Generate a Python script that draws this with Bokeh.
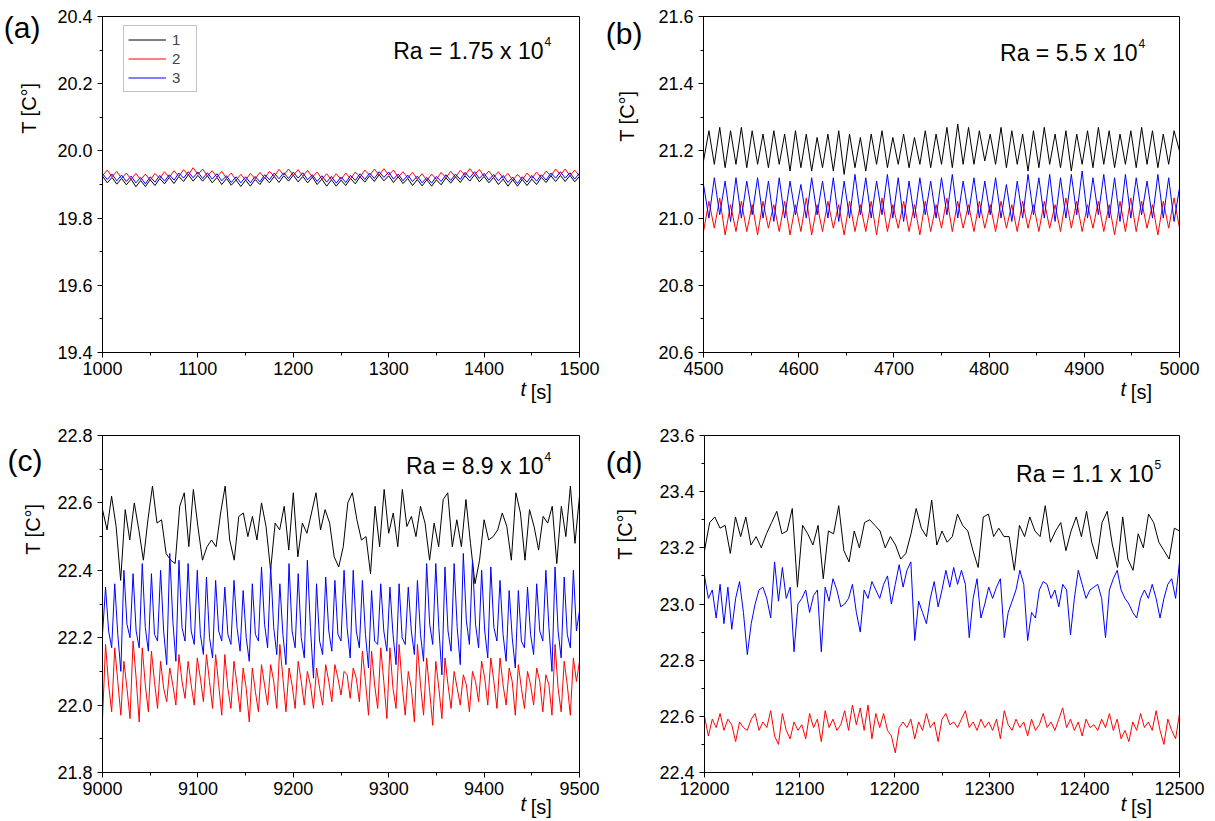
import numpy as np
from math import pi
from bokeh.plotting import figure
from bokeh.models import Range1d, FixedTicker, PrintfTickFormatter, Label, LinearAxis
from bokeh.layouts import row, column
from bokeh.embed import file_html
from bokeh.resources import INLINE

FONT = "Liberation Sans"

# ---------------- data ----------------
# panel (a): Ra = 1.75 x 10^4, t = 1000 .. 1500 s
a_black = [19.925, 19.905, 19.921, 19.901, 19.918, 19.899, 19.916, 19.893, 19.912, 19.894, 19.914,
           19.897, 19.918, 19.902, 19.921, 19.903, 19.924, 19.909, 19.929, 19.910, 19.927,
           19.910, 19.926, 19.905, 19.921, 19.900, 19.918, 19.898, 19.913, 19.894, 19.913,
           19.895, 19.915, 19.900, 19.921, 19.905, 19.924, 19.906, 19.926, 19.910, 19.928,
           19.908, 19.924, 19.905, 19.922, 19.900, 19.916, 19.895, 19.914, 19.895, 19.913,
           19.897, 19.918, 19.902, 19.923, 19.907, 19.926, 19.909, 19.929, 19.911, 19.926,
           19.906, 19.923, 19.903, 19.918, 19.897, 19.915, 19.896, 19.914, 19.895, 19.914,
           19.899, 19.920, 19.904, 19.923, 19.906, 19.926, 19.910, 19.929, 19.908, 19.924,
           19.905, 19.921, 19.900, 19.916, 19.895, 19.914, 19.895, 19.915, 19.897, 19.916,
           19.900, 19.921, 19.906, 19.926, 19.909, 19.927, 19.909, 19.927, 19.908, 19.924]
a_red = [19.926, 19.943, 19.923, 19.939, 19.918, 19.934, 19.915, 19.933, 19.914, 19.931, 19.913,
         19.933, 19.918, 19.938, 19.921, 19.941, 19.924, 19.944, 19.928, 19.950, 19.930,
         19.946, 19.925, 19.941, 19.922, 19.939, 19.919, 19.934, 19.913, 19.930, 19.913,
         19.933, 19.917, 19.936, 19.919, 19.939, 19.924, 19.945, 19.928, 19.946, 19.927,
         19.944, 19.925, 19.942, 19.922, 19.937, 19.916, 19.932, 19.914, 19.932, 19.915,
         19.934, 19.917, 19.937, 19.922, 19.943, 19.927, 19.946, 19.928, 19.947, 19.928,
         19.943, 19.922, 19.938, 19.919, 19.936, 19.916, 19.932, 19.912, 19.931, 19.915,
         19.936, 19.920, 19.939, 19.922, 19.942, 19.927, 19.947, 19.929, 19.945, 19.924,
         19.940, 19.921, 19.938, 19.918, 19.933, 19.913, 19.930, 19.914, 19.934, 19.918,
         19.937, 19.920, 19.940, 19.925, 19.946, 19.929, 19.946, 19.926, 19.943, 19.925]
a_blue = [19.932, 19.915, 19.931, 19.911, 19.928, 19.909, 19.925, 19.905, 19.921, 19.902, 19.923,
          19.907, 19.927, 19.910, 19.929, 19.913, 19.934, 19.919, 19.938, 19.920, 19.937,
          19.918, 19.935, 19.916, 19.932, 19.911, 19.926, 19.906, 19.923, 19.905, 19.923,
          19.905, 19.924, 19.908, 19.929, 19.914, 19.934, 19.917, 19.935, 19.918, 19.937,
          19.919, 19.935, 19.914, 19.929, 19.909, 19.926, 19.907, 19.924, 19.904, 19.922,
          19.906, 19.927, 19.912, 19.932, 19.915, 19.934, 19.918, 19.938, 19.921, 19.937,
          19.916, 19.931, 19.911, 19.928, 19.909, 19.925, 19.905, 19.921, 19.904, 19.924,
          19.909, 19.929, 19.912, 19.931, 19.915, 19.936, 19.920, 19.938, 19.918, 19.933,
          19.913, 19.930, 19.911, 19.927, 19.906, 19.922, 19.903, 19.923, 19.907, 19.927,
          19.910, 19.929, 19.913, 19.934, 19.919, 19.938, 19.919, 19.935, 19.916, 19.934]

# panel (b): Ra = 5.5 x 10^4, t = 4500 .. 5000 s (successive extrema)
b_black = [21.17, 21.26, 21.16, 21.27, 21.15, 21.26, 21.16, 21.27, 21.15, 21.26,
           21.16, 21.25, 21.15, 21.26, 21.16, 21.25, 21.14, 21.26, 21.15, 21.25,
           21.14, 21.24, 21.15, 21.25, 21.14, 21.26, 21.13, 21.25, 21.15, 21.24,
           21.14, 21.25, 21.16, 21.26, 21.15, 21.24, 21.16, 21.25, 21.15, 21.24,
           21.16, 21.26, 21.15, 21.25, 21.16, 21.27, 21.15, 21.28, 21.16, 21.27,
           21.16, 21.26, 21.17, 21.25, 21.16, 21.27, 21.15, 21.26, 21.16, 21.25,
           21.14, 21.26, 21.15, 21.27, 21.16, 21.25, 21.15, 21.26, 21.14, 21.25,
           21.16, 21.26, 21.15, 21.27, 21.16, 21.26, 21.15, 21.25, 21.16, 21.26,
           21.15, 21.27, 21.16, 21.26, 21.15, 21.25, 21.16, 21.26, 21.20]
b_red = [20.96, 21.05, 20.97, 21.06, 20.95, 21.04, 20.96, 21.05, 20.96, 21.04,
         20.95, 21.05, 20.97, 21.04, 20.96, 21.05, 20.95, 21.04, 20.96, 21.06,
         20.95, 21.04, 20.96, 21.05, 20.97, 21.04, 20.95, 21.05, 20.96, 21.04,
         20.96, 21.05, 20.95, 21.06, 20.96, 21.04, 20.97, 21.05, 20.96, 21.04,
         20.95, 21.05, 20.96, 21.04, 20.97, 21.06, 20.96, 21.05, 20.97, 21.04,
         20.96, 21.05, 20.97, 21.04, 20.96, 21.05, 20.97, 21.04, 20.96, 21.05,
         20.97, 21.04, 20.96, 21.05, 20.97, 21.04, 20.96, 21.06, 20.97, 21.05,
         20.96, 21.04, 20.97, 21.05, 20.96, 21.04, 20.95, 21.05, 20.96, 21.06,
         20.96, 21.05, 20.97, 21.04, 20.95, 21.05, 20.97, 21.06, 20.97]
b_blue = [21.10, 21.00, 21.12, 21.01, 21.11, 20.99, 21.12, 21.00, 21.11, 21.01,
          21.12, 21.00, 21.11, 20.99, 21.12, 21.00, 21.11, 21.01, 21.10, 21.00,
          21.12, 21.01, 21.11, 21.00, 21.12, 20.99, 21.11, 21.00, 21.13, 21.01,
          21.12, 21.00, 21.11, 21.01, 21.13, 21.00, 21.12, 20.99, 21.11, 21.00,
          21.12, 21.01, 21.11, 21.00, 21.12, 21.01, 21.13, 21.00, 21.11, 21.01,
          21.12, 21.00, 21.11, 21.01, 21.12, 21.00, 21.10, 20.99, 21.11, 21.00,
          21.13, 21.01, 21.12, 21.00, 21.13, 20.99, 21.12, 21.00, 21.13, 21.01,
          21.14, 21.00, 21.12, 21.01, 21.13, 21.00, 21.12, 20.99, 21.13, 21.00,
          21.12, 21.01, 21.11, 21.00, 21.13, 21.00, 21.12, 20.99, 21.09]

# panel (c): Ra = 8.9 x 10^4, t = 9000 .. 9500 s
c_black = [22.58, 22.52, 22.62, 22.53, 22.37, 22.58, 22.49, 22.60, 22.52, 22.43, 22.55, 22.65, 22.54,
           22.55, 22.45, 22.43, 22.42, 22.59, 22.63, 22.47, 22.64, 22.53, 22.43, 22.47, 22.49, 22.47,
           22.57, 22.65, 22.49, 22.43, 22.56, 22.57, 22.50, 22.56, 22.49, 22.60, 22.53, 22.40, 22.54,
           22.52, 22.59, 22.46, 22.63, 22.44, 22.54, 22.51, 22.57, 22.63, 22.52, 22.58, 22.54, 22.44,
           22.41, 22.47, 22.60, 22.63, 22.55, 22.49, 22.50, 22.39, 22.59, 22.47, 22.64, 22.51, 22.57,
           22.47, 22.64, 22.53, 22.56, 22.50, 22.59, 22.54, 22.43, 22.54, 22.47, 22.61, 22.63, 22.47,
           22.55, 22.47, 22.61, 22.48, 22.36, 22.43, 22.55, 22.49, 22.50, 22.52, 22.57, 22.53, 22.43,
           22.63, 22.57, 22.43, 22.58, 22.53, 22.46, 22.56, 22.54, 22.59, 22.42, 22.59, 22.50, 22.65,
           22.48, 22.62]
# each oscillation of series 2 and 3: minimum, peak, shoulder after the peak
c_red_low = [21.96, 21.98, 21.97, 21.96, 21.95, 21.98, 21.99, 22.01, 22.00, 22.02, 22.00, 22.01, 21.99,
             21.97, 21.99, 21.98, 21.95, 21.98, 22.00, 21.99, 21.98, 21.99, 22.00, 21.99, 22.00, 22.01,
             22.03, 22.02, 22.01, 21.97, 21.99, 21.96, 21.99, 21.97, 21.95, 21.97, 21.94, 21.96, 21.99,
             22.00, 21.98, 22.01, 22.00, 21.99, 22.00, 21.97, 21.99, 22.00, 21.98, 21.97, 21.98, 21.97,
             22.13]
c_red_high = [22.18, 22.17, 22.13, 22.19, 22.17, 22.16, 22.13, 22.11, 22.15, 22.13, 22.14, 22.15, 22.15,
              22.15, 22.13, 22.11, 22.11, 22.12, 22.12, 22.18, 22.11, 22.13, 22.10, 22.11, 22.12, 22.12,
              22.10, 22.11, 22.16, 22.16, 22.17, 22.17, 22.18, 22.10, 22.18, 22.14, 22.13, 22.14, 22.10,
              22.09, 22.10, 22.13, 22.14, 22.14, 22.11, 22.12, 22.10, 22.11, 22.09, 22.18, 22.13, 22.14]
c_red_mid = [22.06, 22.07, 22.05, 22.08, 22.06, 22.07, 22.05, 22.06, 22.07, 22.06, 22.08, 22.07, 22.06,
             22.05, 22.06, 22.05, 22.04, 22.06, 22.07, 22.08, 22.06, 22.07, 22.06, 22.05, 22.07, 22.08,
             22.09, 22.08, 22.07, 22.06, 22.07, 22.05, 22.06, 22.05, 22.06, 22.04, 22.05, 22.06, 22.05,
             22.06, 22.07, 22.08, 22.07, 22.06, 22.07, 22.05, 22.06, 22.07, 22.06, 22.05, 22.06, 22.07]
c_blue_low = [22.21, 22.17, 22.10, 22.20, 22.17, 22.16, 22.19, 22.12, 22.13, 22.19, 22.18, 22.15, 22.14,
              22.19, 22.18, 22.16, 22.13, 22.19, 22.17, 22.15, 22.12, 22.17, 22.14, 22.08, 22.15, 22.16,
              22.19, 22.14, 22.17, 22.11, 22.18, 22.16, 22.12, 22.18, 22.15, 22.13, 22.18, 22.09, 22.16,
              22.12, 22.18, 22.17, 22.14, 22.19, 22.13, 22.11, 22.17, 22.15, 22.19, 22.10, 22.14, 22.17,
              22.28]
c_blue_high = [22.35, 22.36, 22.40, 22.39, 22.42, 22.39, 22.40, 22.45, 22.43, 22.42, 22.40, 22.38, 22.37,
               22.35, 22.37, 22.34, 22.36, 22.41, 22.41, 22.36, 22.42, 22.39, 22.43, 22.36, 22.38, 22.37,
               22.40, 22.40, 22.37, 22.34, 22.36, 22.35, 22.36, 22.35, 22.37, 22.42, 22.42, 22.41, 22.42,
               22.45, 22.43, 22.40, 22.41, 22.37, 22.34, 22.34, 22.35, 22.36, 22.40, 22.41, 22.38, 22.40]
c_blue_mid = [22.22, 22.21, 22.24, 22.22, 22.23, 22.21, 22.22, 22.25, 22.23, 22.22, 22.21, 22.20, 22.22,
              22.21, 22.23, 22.20, 22.21, 22.24, 22.23, 22.21, 22.22, 22.20, 22.23, 22.19, 22.22, 22.21,
              22.23, 22.22, 22.21, 22.19, 22.22, 22.21, 22.20, 22.22, 22.21, 22.24, 22.23, 22.22, 22.23,
              22.25, 22.24, 22.22, 22.23, 22.21, 22.20, 22.19, 22.21, 22.22, 22.23, 22.22, 22.21, 22.22]

# panel (d): Ra = 1.1 x 10^5, t = 12000 .. 12500 s
d_black = [23.19, 23.29, 23.31, 23.27, 23.28, 23.18, 23.31, 23.24, 23.31, 23.21, 23.24, 23.20, 23.25,
           23.29, 23.33, 23.25, 23.26, 23.34, 23.06, 23.28, 23.25, 23.21, 23.28, 23.09, 23.26, 23.25,
           23.35, 23.19, 23.15, 23.26, 23.20, 23.29, 23.30, 23.28, 23.26, 23.20, 23.24, 23.21, 23.16,
           23.18, 23.25, 23.34, 23.27, 23.24, 23.37, 23.21, 23.26, 23.22, 23.24, 23.32, 23.28, 23.26,
           23.19, 23.13, 23.31, 23.32, 23.24, 23.27, 23.24, 23.24, 23.12, 23.28, 23.24, 23.31, 23.26,
           23.24, 23.35, 23.22, 23.26, 23.29, 23.19, 23.26, 23.31, 23.24, 23.33, 23.22, 23.16, 23.29,
           23.33, 23.21, 23.13, 23.31, 23.16, 23.12, 23.25, 23.20, 23.32, 23.29, 23.22, 23.19, 23.16,
           23.27, 23.26]
d_red = [22.60, 22.53, 22.59, 22.56, 22.61, 22.55, 22.59, 22.57, 22.51, 22.58, 22.56, 22.55, 22.59,
         22.61, 22.55, 22.58, 22.56, 22.62, 22.53, 22.50, 22.61, 22.55, 22.52, 22.58, 22.55, 22.57,
         22.52, 22.61, 22.56, 22.59, 22.51, 22.62, 22.56, 22.59, 22.55, 22.57, 22.62, 22.55, 22.64,
         22.57, 22.63, 22.55, 22.64, 22.52, 22.61, 22.56, 22.61, 22.55, 22.53, 22.47, 22.56, 22.58,
         22.56, 22.59, 22.52, 22.58, 22.55, 22.61, 22.56, 22.58, 22.51, 22.59, 22.61, 22.57, 22.58,
         22.56, 22.59, 22.62, 22.56, 22.58, 22.55, 22.59, 22.56, 22.58, 22.55, 22.59, 22.52, 22.62,
         22.57, 22.55, 22.59, 22.56, 22.58, 22.53, 22.59, 22.55, 22.57, 22.61, 22.56, 22.58, 22.55,
         22.59, 22.63, 22.56, 22.59, 22.55, 22.58, 22.53, 22.59, 22.56, 22.57, 22.55, 22.59, 22.56,
         22.61, 22.55, 22.59, 22.52, 22.55, 22.51, 22.58, 22.55, 22.61, 22.56, 22.58, 22.55, 22.62,
         22.55, 22.50, 22.59, 22.55, 22.52, 22.61]
d_blue = [23.10, 23.02, 23.05, 22.95, 23.07, 22.93, 23.06, 22.91, 23.02, 23.08, 22.97, 22.82, 22.93,
          23.00, 23.05, 23.06, 23.02, 22.95, 23.15, 23.01, 23.13, 23.02, 23.06, 22.83, 23.00, 23.02,
          23.05, 22.97, 23.03, 23.05, 22.83, 23.06, 23.01, 23.09, 23.05, 22.99, 23.00, 23.02, 23.07,
          22.97, 22.90, 23.05, 23.02, 23.08, 23.05, 23.02, 23.07, 23.10, 23.00, 23.07, 23.14, 23.06,
          23.12, 23.15, 22.87, 23.01, 22.97, 22.93, 23.02, 23.08, 22.99, 23.05, 23.12, 23.06, 23.13,
          23.07, 23.12, 23.07, 22.88, 23.02, 23.09, 22.95, 23.00, 23.06, 23.02, 23.06, 23.09, 22.88,
          22.97, 23.01, 23.05, 23.12, 23.07, 22.87, 22.97, 22.95, 23.05, 23.08, 23.07, 23.02, 23.05,
          22.99, 23.07, 23.05, 22.89, 23.02, 23.12, 23.07, 23.02, 23.05, 23.06, 23.07, 23.02, 22.88,
          23.05, 23.09, 23.12, 23.05, 23.02, 23.00, 22.97, 22.95, 23.02, 23.05, 23.02, 23.07, 23.02,
          22.95, 23.02, 23.07, 23.09, 23.02, 23.15]

x_ranges = {"a": (1000, 1500), "b": (4500, 5000), "c": (9000, 9500), "d": (12000, 12500)}
y_ranges = {"a": (19.4, 20.4), "b": (20.6, 21.6), "c": (21.8, 22.8), "d": (22.4, 23.6)}
ra_text = {"a": ("1.75", "4"), "b": ("5.5", "4"), "c": ("8.9", "4"), "d": ("1.1", "5")}
series_names = ["1", "2", "3"]
series_colors = ["#000000", "#ff0000", "#0000ff"]
y_label = "T [C°]"
x_label = ("t", "[s]")


def cycles(low, high, mid):
    """Order the read extrema of each oscillation in time: minimum, peak, shoulder."""
    out = []
    for i in range(len(high)):
        out.extend([low[i], high[i], mid[i]])
    out.extend(low[len(high):])
    return out


series = {
    "a": [a_black, a_red, a_blue],
    "b": [b_black, b_red, b_blue],
    "c": [c_black, cycles(c_red_low, c_red_high, c_red_mid),
          cycles(c_blue_low, c_blue_high, c_blue_mid)],
    "d": [d_black, d_red, d_blue],
}

# ---------------- layout (pixels) ----------------
# width, height, left, right, top, bottom borders
geom = {
    "a": (600, 407, 102, 21, 16, 55),
    "b": (609, 407, 103, 30, 16, 55),
    "c": (600, 414, 102, 21, 28, 49),
    "d": (609, 414, 103, 30, 28, 49),
}
# label-only axes: y-label standoff, y-label top below frame top,
# letter standoff, letter centre below frame top, x-label standoff
side = {
    "a": (25, 66, -36, 11, 0),
    "b": (28, 74, -40, 17, 0),
    "c": (21, 68, -34, 25, -5),
    "d": (31, 73, -42, 27, -5),
}
# Ra text: right end of "10" (from frame left), baseline below frame top
ra_pos = {"a": (441, 34), "b": (434, 36), "c": (441, 30), "d": (449, 38)}


def txt(p, x, y, text, size, align="left", baseline="alphabetic"):
    p.add_layout(Label(x=x, y=y, x_units="screen", y_units="screen", text=text,
                       text_font=FONT, text_font_size=f"{size}px", text_align=align,
                       text_baseline=baseline, text_color="#000000"))


def text_axis(p, where, pos, text, size, standoff, orientation="horizontal", style="normal"):
    ax = LinearAxis(ticker=FixedTicker(ticks=[pos], minor_ticks=[]),
                    major_label_overrides={pos: text})
    ax.axis_line_color = None
    ax.major_tick_line_color = None
    ax.minor_tick_line_color = None
    ax.major_tick_out = 0
    ax.major_tick_in = 0
    ax.minor_tick_out = 0
    ax.minor_tick_in = 0
    ax.major_label_standoff = standoff
    ax.major_label_orientation = orientation
    ax.major_label_text_font = FONT
    ax.major_label_text_font_size = f"{size}px"
    ax.major_label_text_font_style = style
    ax.major_label_text_color = "#000000"
    p.add_layout(ax, where)
    return ax


def panel(key):
    w, h, bl, br, bt, bb = geom[key]
    fh = h - bt - bb
    x0, x1 = x_ranges[key]
    y0, y1 = y_ranges[key]
    p = figure(width=w, height=h, x_range=Range1d(x0, x1), y_range=Range1d(y0, y1),
               output_backend="svg", toolbar_location=None,
               min_border_left=bl, min_border_right=br, min_border_top=bt, min_border_bottom=bb)
    p.xgrid.visible = False
    p.ygrid.visible = False
    p.outline_line_color = "#000000"
    p.outline_line_width = 1
    p.outline_line_alpha = 1
    p.background_fill_color = "white"
    p.border_fill_color = "white"

    xt = list(range(x0, x1 + 1, 100))
    xm = list(range(x0 + 50, x1, 100))
    n = int(round((y1 - y0) / 0.2))
    yt = [round(y0 + 0.2 * i, 1) for i in range(n + 1)]
    ym = [round(y0 + 0.1 + 0.2 * i, 1) for i in range(n)]
    p.xaxis.ticker = FixedTicker(ticks=xt, minor_ticks=xm)
    p.yaxis.ticker = FixedTicker(ticks=yt, minor_ticks=ym)
    p.xaxis.formatter = PrintfTickFormatter(format="%d")
    p.yaxis.formatter = PrintfTickFormatter(format="%.1f")
    for ax in (p.xaxis, p.yaxis):
        ax.axis_line_color = "#000000"
        ax.axis_line_width = 1
        ax.major_tick_line_color = "#000000"
        ax.minor_tick_line_color = "#000000"
        ax.major_tick_out = 5
        ax.major_tick_in = 0
        ax.minor_tick_out = 3
        ax.minor_tick_in = 0
        ax.major_label_text_font = FONT
        ax.major_label_text_font_size = "18px"
        ax.major_label_text_color = "#000000"
    p.xaxis.major_label_standoff = 4
    p.yaxis.major_label_standoff = 5

    for vals, name, col in zip(series[key], series_names, series_colors):
        tt = np.linspace(x0, x1, len(vals))
        if key == "a":
            p.line(tt, vals, line_color=col, line_width=1, legend_label=name)
        else:
            p.line(tt, vals, line_color=col, line_width=1)

    # texts outside the frame, carried by label-only axes
    ys, ytop, ls, ltop, xs = side[key]
    ppy = (y1 - y0) / fh
    text_axis(p, "left", round(y1 - ytop * ppy, 4), y_label, 20, ys, orientation=pi / 2)
    text_axis(p, "left", round(y1 - ltop * ppy, 4), f"({key})", 30, ls)
    text_axis(p, "below", x0 + 441, x_label[0], 20, xs, style="italic")
    text_axis(p, "below", x0 + 460, x_label[1], 20, -22)

    rx, rby = ra_pos[key]
    ra, ex = ra_text[key]
    txt(p, rx, fh - rby, f"Ra = {ra} x 10", 23, align="right")
    txt(p, rx + 1, fh - rby + 9, ex, 12, align="left")

    if key == "a":
        lg = p.legend[0]
        lg.location = (21, fh - 11 - 65)
        lg.margin = 0
        lg.padding = 4
        lg.spacing = 0
        lg.glyph_width = 38
        lg.glyph_height = 19
        lg.label_height = 19
        lg.label_standoff = 6
        lg.label_text_font = FONT
        lg.label_text_font_size = "15px"
        lg.border_line_color = "#888888"
        lg.border_line_width = 1
        lg.background_fill_alpha = 1
    return p


pa, pb, pc, pd = panel("a"), panel("b"), panel("c"), panel("d")
layout = column(row(pa, pb), row(pc, pd))

open("out.html", "w").write(file_html(layout, INLINE))
